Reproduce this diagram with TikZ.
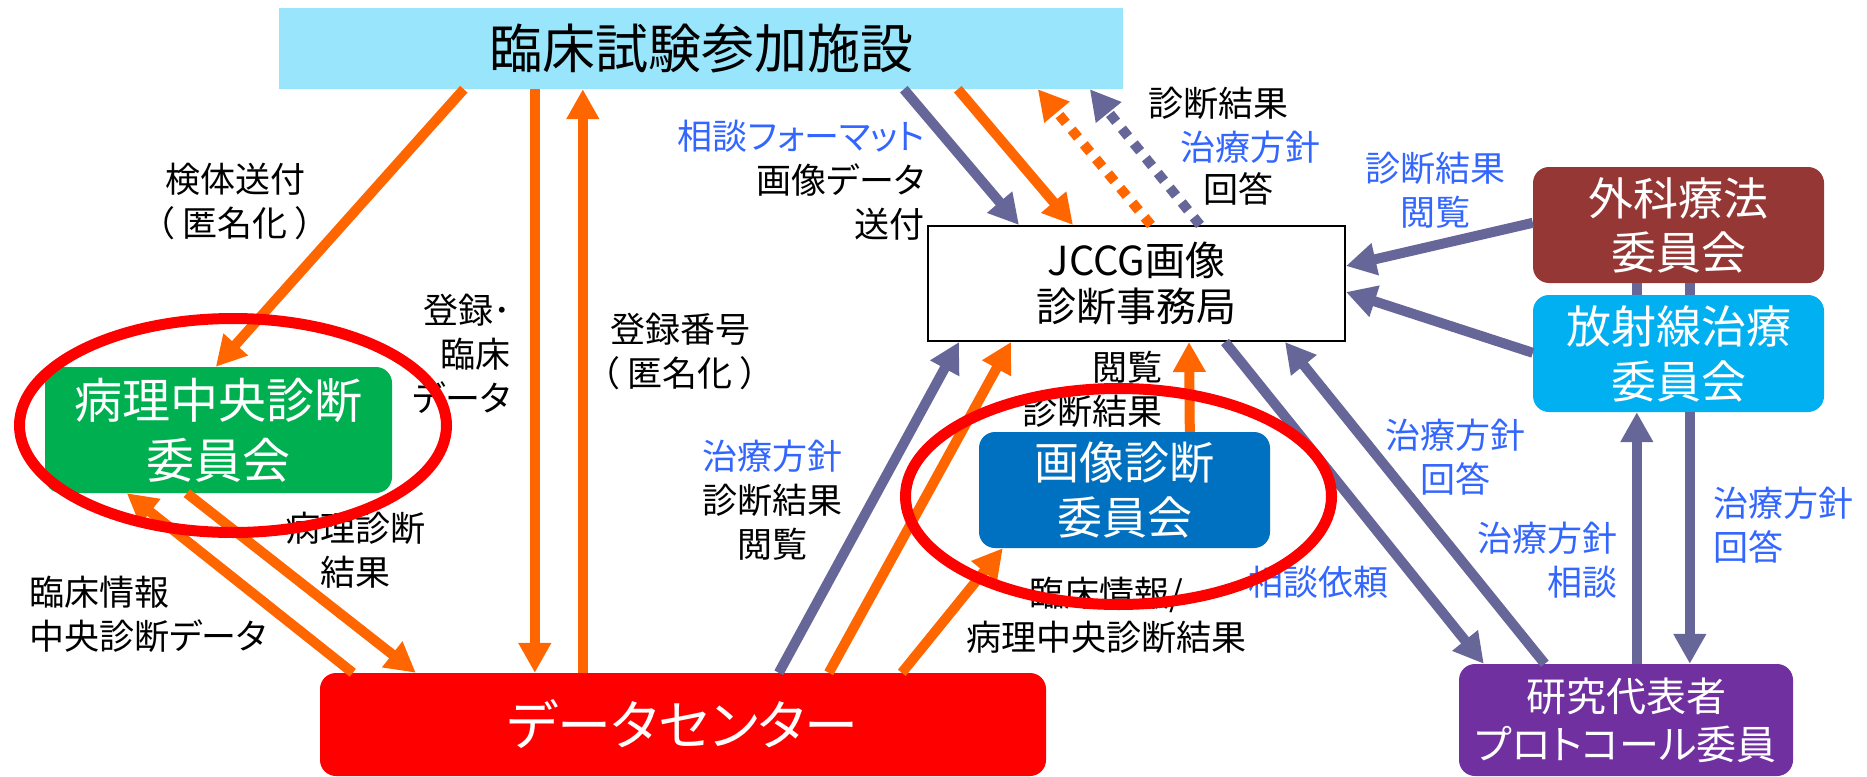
\documentclass[tikz,border=0pt]{standalone}
\usepackage{fontspec}
\setmainfont{Noto Sans CJK JP}[RawFeature=+palt]
\usetikzlibrary{arrows.meta,calc}
\definecolor{topblue}{RGB}{153,230,252}
\definecolor{grn}{RGB}{0,176,80}
\definecolor{dcred}{RGB}{255,0,0}
\definecolor{gzblue}{RGB}{0,112,192}
\definecolor{brn}{RGB}{149,55,53}
\definecolor{cyanbox}{RGB}{0,176,240}
\definecolor{purp}{RGB}{112,48,160}
\definecolor{orng}{RGB}{255,102,0}
\definecolor{pgray}{RGB}{102,102,153}
\definecolor{txtblue}{RGB}{51,102,255}
\newcommand{\tokumei}{（\hspace{8pt}匿名化\hspace{8pt}）}
\begin{document}
\begin{tikzpicture}[x=1pt,y=-1pt,
  box/.style={inner sep=0pt, align=center, rounded corners=16pt, text=white},
  lbl/.style={inner sep=0pt, align=center, font=\fontsize{35}{44}\selectfont},
  blbl/.style={lbl, text=txtblue},
  oarr/.style={draw=orng, line width=10pt, -{Triangle[width=31pt,length=30pt]}},
  parr/.style={draw=pgray, line width=10pt, -{Triangle[width=31pt,length=30pt]}},
  pline/.style={draw=pgray, line width=10pt},
  odot/.style={oarr, dash pattern=on 10pt off 9pt},
  pdot/.style={parr, dash pattern=on 10pt off 9pt},
  ring/.style={draw=dcred, line width=11pt}
]
\fill[white] (0,0) rectangle (1867,776);
\useasboundingbox (0,0) rectangle (1867,776);

% boxes
\node[fill=topblue, minimum width=844pt, minimum height=81pt, inner sep=0pt,
      font=\fontsize{53}{60}\selectfont] (top) at (701,48.5) {臨床試験参加施設};
\node[box, fill=grn, minimum width=347pt, minimum height=126pt,
      font=\fontsize{48}{60}\selectfont] (path) at (218.5,430) {病理中央診断\\委員会};
\node[box, fill=dcred, minimum width=726pt, minimum height=103pt,
      font=\fontsize{54}{60}\selectfont] (dc) at (683,724.5) {データセンター};
\node[draw=black, line width=2pt, fill=white, minimum width=417pt, minimum height=115pt,
      inner sep=0pt, align=center, font=\fontsize{40}{46}\selectfont] (jccg) at (1136.5,283.5) {JCCG画像\\診断事務局};
\node[box, fill=gzblue, minimum width=291pt, minimum height=116pt,
      font=\fontsize{45}{55}\selectfont] (gazo) at (1124.5,490) {画像診断\\委員会};
\node[box, fill=brn, minimum width=291pt, minimum height=116pt,
      font=\fontsize{45}{54}\selectfont] (geka) at (1678.5,225) {外科療法\\委員会};
\node[box, fill=cyanbox, minimum width=291pt, minimum height=117pt,
      font=\fontsize{45}{55}\selectfont] (hosha) at (1678.5,353.5) {放射線治療\\委員会};
\node[box, fill=purp, minimum width=334pt, minimum height=112pt,
      font=\fontsize{40}{48}\selectfont] (ken) at (1626,720) {研究代表者\\プロトコール委員};

% labels
\node[lbl] (lkentai) at (235,201) {検体送付\\\tokumei};
\node[lbl, align=right, anchor=east] (ltoroku) at (511,353.5) {登録･\\臨床\\データ};
\node[lbl] (lbango) at (680,351.5) {登録番号\\\tokumei};
\node[lbl] (lbyori) at (355,550) {病理診断\\結果};
\node[lbl, align=left, anchor=west] (lrinsho) at (29,614) {臨床情報\\中央診断データ};
\node[lbl, align=right, anchor=east] (lsoudan) at (925,180) {\textcolor{txtblue}{相談フォーマット}\\画像データ\\送付};
\node[lbl] (lka) at (1218,103) {診断結果};
\node[blbl] (lkb) at (1250,147) {治療方針};
\node[lbl] (lkc) at (1238,189) {回答};
\node[blbl] (letsu) at (1435,190) {診断結果\\閲覧};
\node[blbl] (lkaito) at (1455,457.5) {治療方針\\回答};
\node[blbl] (lirai) at (1318,582) {相談依頼};
\node[blbl, align=right, anchor=east] (lsodan) at (1618,560) {治療方針\\相談};
\node[blbl, align=left, anchor=west] (lkaitob) at (1713,525) {治療方針\\回答};
\node[lbl] (ldcj) at (772,500) {\textcolor{txtblue}{治療方針}\\診断結果\\閲覧};
\node[lbl, align=right, anchor=east] (letsub) at (1163,389.5) {閲覧\\診断結果};
\node[lbl] (lrinb) at (1106,615) {臨床情報/\\病理中央診断結果};

% connectors
\draw[oarr] ($(top.south west)+(185,0)$) -- ($(path.north west)+(171,0)$);
\draw[oarr] ($(top.south west)+(256,0)$) -- ($(dc.north west)+(215,0)$);
\draw[oarr] ($(dc.north west)+(263,0)$) -- ($(top.south west)+(304,0)$);
\draw[oarr] ($(path.south west)+(142,0)$) -- ($(dc.north west)+(96,0)$);
\draw[oarr] ($(dc.north west)+(33,0)$) -- ($(path.south west)+(82,0)$);

\draw[parr] ($(top.south west)+(625,0)$) -- ($(jccg.north west)+(92,0)$);
\draw[oarr] ($(top.south west)+(679,0)$) -- ($(jccg.north west)+(146,0)$);
\draw[odot] ($(jccg.north west)+(224,0)$) -- ($(top.south west)+(759,0)$);
\draw[pdot] ($(jccg.north west)+(273,0)$) -- ($(top.south west)+(811,0)$);

\draw[parr] ($(geka.north west)+(0,56)$) -- ($(jccg.north east)+(0,41)$);
\draw[parr] ($(hosha.north west)+(0,58)$) -- ($(jccg.north east)+(0,67)$);
\draw[pline] ($(geka.south west)+(104,0)$) -- ($(hosha.north west)+(104,0)$);
\draw[pline] ($(geka.south west)+(157,0)$) -- ($(hosha.north west)+(157,0)$);
\draw[parr] ($(ken.north west)+(178,0)$) -- ($(hosha.south west)+(104,0)$);
\draw[parr] ($(hosha.south west)+(157,0)$) -- ($(ken.north west)+(231,0)$);
\draw[parr] ($(jccg.south west)+(298,0)$) -- ($(ken.north west)+(25,0)$);
\draw[parr] ($(ken.north west)+(86,0)$) -- ($(jccg.south west)+(358,0)$);

\draw[parr] ($(dc.north west)+(459,0)$) -- ($(jccg.south west)+(32,0)$);
\draw[oarr] ($(dc.north west)+(509,0)$) -- ($(jccg.south west)+(84,0)$);
\draw[oarr] ($(dc.north west)+(582,0)$) -- ($(gazo.south west)+(24,0)$);
\draw[oarr] ($(gazo.north west)+(211,0)$) -- ($(jccg.south west)+(262,0)$);

% highlight rings
\draw[ring] (233,425.5) ellipse [x radius=213.5pt, y radius=107pt];
\draw[ring] (1118.5,496.5) ellipse [x radius=213pt, y radius=108pt];
\end{tikzpicture}
\end{document}
